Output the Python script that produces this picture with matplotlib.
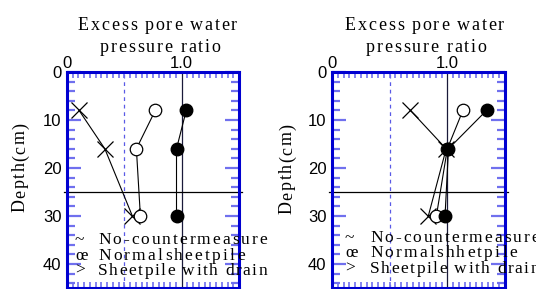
import numpy as np
import matplotlib
matplotlib.use("Agg")
import matplotlib.pyplot as plt
from matplotlib.ticker import MultipleLocator
from matplotlib.font_manager import FontProperties

# depth of pore water gauges (cm)
depth = [8, 16, 30]

# left panel
left_none = [0.105, 0.33, 0.57]
left_sheet = [0.77, 0.605, 0.64]
left_drain = [1.04, 0.955, 0.955]

# right panel
right_none = [0.68, 0.99, 0.835]
right_sheet = [1.135, 1.0, 0.905]
right_drain = [1.34, 1.01, 0.98]

legend_syms = ["~", "\u0153", ">"]
legend_left = ["No-countermeasure", "Normalsheetpile", "Sheetpile with drain"]
legend_right = ["No-countermeasure", "Normalshhetpile", "Sheetpile with drain"]

W, H = 536, 289
spine_col = "#0000d0"
tick_col = "#7070ee"
sans = "Liberation Sans"
title_fp = FontProperties(family="Liberation Serif", size=13)
label_fp = FontProperties(family="Liberation Serif", size=13)
leg_fp = FontProperties(family="Liberation Serif", size=12.5)

fig = plt.figure(figsize=(W / 100, H / 100), dpi=100)
rend = fig.canvas.get_renderer()


def spaced(x0, y0, s, width, fp, rot=0):
    # text with wide letter spacing, x0/y0 in pixels from top-left (baseline)
    ws = []
    for c in s:
        if c == " ":
            ws.append(fp.get_size_in_points() * 0.25 * 100 / 72)
        else:
            ws.append(rend.get_text_width_height_descent(c, fp, ismath=False)[0])
    gap = (width - sum(ws)) / (len(s) - 1)
    pos = x0 if rot == 0 else y0
    for c, w in zip(s, ws):
        if c != " ":
            if rot == 0:
                fig.text(pos / W, 1 - y0 / H, c, fontproperties=fp, rotation_mode="anchor",
                         ha="left", va="baseline")
            else:
                fig.text(x0 / W, 1 - pos / H, c, fontproperties=fp, rotation=90,
                         rotation_mode="anchor", ha="left", va="baseline")
        pos = pos + (w + gap if rot == 0 else -(w + gap))


def make_panel(rect, none, sheet, drain):
    ax = fig.add_axes(rect)
    ax.set_xlim(0, 1.5)
    ax.set_ylim(45, 0)

    ax.axvline(0.5, color="#5a5ae6", lw=0.9, ls=(0, (3, 3)), zorder=1)
    ax.axvline(1.0, color="#1a1a3a", lw=0.9, zorder=1)
    ax.plot([-0.03, 1.53], [25, 25], color="black", lw=0.9, clip_on=False, zorder=1)

    ax.plot(none, depth, color="black", lw=0.8, marker="x", ms=11, mew=0.9, zorder=3)
    ax.plot(sheet, depth, color="black", lw=0.8, marker="o", ms=9, mfc="white", mec="black", mew=0.9, zorder=3)
    ax.plot(drain, depth, color="black", lw=0.8, marker="o", ms=9, mfc="black", mec="black", zorder=3)

    for s in ax.spines.values():
        s.set_color(spine_col)
        s.set_linewidth(2.2)

    ax.xaxis.tick_top()
    ax.set_xticks([0, 1.0])
    ax.set_xticklabels(["0", "1.0"])
    ax.xaxis.set_minor_locator(MultipleLocator(0.05))
    ax.set_yticks([0, 10, 20, 30, 40])
    ax.yaxis.set_minor_locator(MultipleLocator(2))

    ax.tick_params(axis="x", which="both", direction="in", top=True, bottom=True,
                   color=tick_col, width=1.2, labelsize=12, pad=1)
    ax.tick_params(axis="x", which="major", length=0)
    ax.tick_params(axis="x", which="minor", length=4)
    ax.tick_params(axis="y", which="both", direction="in", left=True, right=True,
                   color=tick_col, width=1.6, labelsize=12, pad=4)
    ax.tick_params(axis="y", which="major", length=10)
    ax.tick_params(axis="y", which="minor", length=6)
    for lab in ax.get_xticklabels() + ax.get_yticklabels():
        lab.set_fontfamily(sans)
    return ax


make_panel([67 / W, 1 / H, 172 / W, 216 / H], left_none, left_sheet, left_drain)
make_panel([332 / W, 1 / H, 173 / W, 216 / H], right_none, right_sheet, right_drain)

# titles
spaced(78, 30, "Excess pore water", 159, title_fp)
spaced(100, 52, "pressure ratio", 120, title_fp)
spaced(345, 30, "Excess pore water", 159, title_fp)
spaced(366, 52, "pressure ratio", 120, title_fp)

# y labels
spaced(25, 212, "Depth(cm)", 89, label_fp, rot=90)
spaced(292, 214, "Depth(cm)", 90, label_fp, rot=90)

# legends drawn as text
leg_w = [169, 147, 169]
for x_sym, x_txt, ys, labels in [(75, 98, [244, 260, 275], legend_left),
                                 (345, 370, [242, 257, 273], legend_right)]:
    for sym, txt, y, w in zip(legend_syms, labels, ys, leg_w):
        fig.text(x_sym / W, 1 - y / H, sym, fontproperties=leg_fp, ha="left", va="baseline")
        spaced(x_txt, y, txt, w, leg_fp)

fig.savefig("out.png", dpi=100)
